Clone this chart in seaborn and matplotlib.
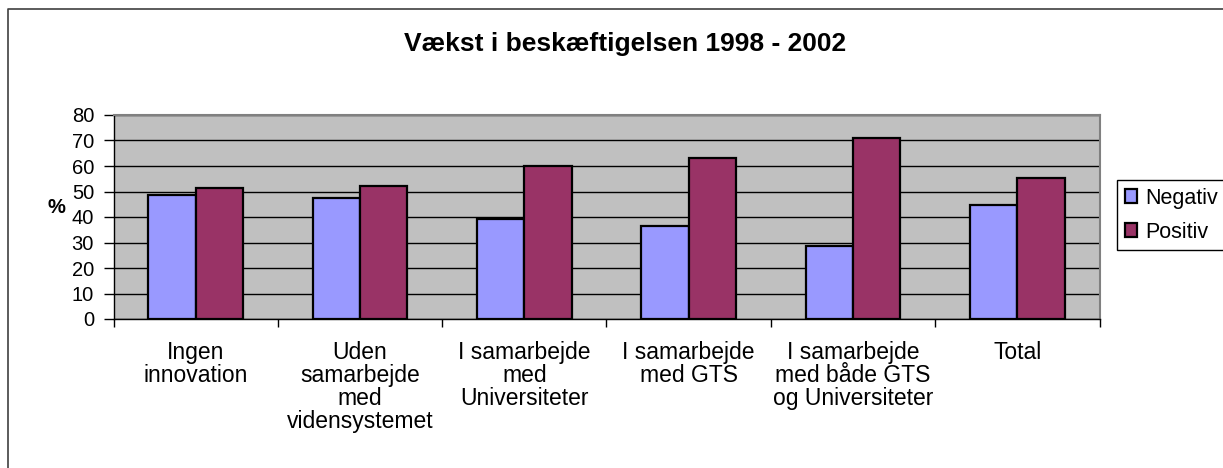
import pandas as pd
import seaborn as sns
import matplotlib.pyplot as plt
from matplotlib.lines import Line2D

categories = ['Ingen\ninnovation',
              'Uden\nsamarbejde\nmed\nvidensystemet',
              'I samarbejde\nmed\nUniversiteter',
              'I samarbejde\nmed GTS',
              'I samarbejde\nmed både GTS\nog Universiteter',
              'Total']
negativ = [48.6, 47.4, 39.1, 36.6, 28.8, 44.8]
positiv = [51.4, 52.2, 60.0, 63.2, 71.0, 55.1]
series = ['Negativ', 'Positiv']
y_ticks = [0, 10, 20, 30, 40, 50, 60, 70, 80]

df = pd.DataFrame({'Kategori': categories * 2,
                   'Type': ['Negativ'] * len(categories) + ['Positiv'] * len(categories),
                   'Procent': negativ + positiv})

sns.set_theme(style='white')
plt.rcParams['font.family'] = ['Liberation Sans', 'DejaVu Sans']
plt.rcParams['text.color'] = 'black'
plt.rcParams['axes.labelcolor'] = 'black'
plt.rcParams['xtick.color'] = 'black'
plt.rcParams['ytick.color'] = 'black'

fig = plt.figure(figsize=(12.23, 4.68), dpi=100)
ax = fig.add_axes([113.5 / 1223, 1 - 319 / 468, (1099.5 - 113.5) / 1223, (319 - 115) / 468])
ax.set_facecolor('#C0C0C0')

sns.barplot(data=df, x='Kategori', y='Procent', hue='Type', hue_order=series,
            palette={'Negativ': '#9999FF', 'Positiv': '#993366'},
            width=0.578, gap=0, edgecolor='black', linewidth=1.6, saturation=1,
            ax=ax, zorder=3)

ax.set_ylim(0, 80)
ax.set_xlim(-0.5, len(categories) - 0.5)
ax.set_yticks(y_ticks)
ax.set_yticklabels([str(t) for t in y_ticks], fontsize=14.5, color='black')
ax.yaxis.grid(True, color='black', linewidth=1.0, zorder=0)
ax.set_axisbelow(True)

# category labels in the middle, tick marks on the boundaries
ax.set_xticks(range(len(categories)))
ax.set_xticklabels(categories, fontsize=16.5, color='black', linespacing=1.0, va='top')
ax.tick_params(axis='x', which='major', length=0, pad=16)
ax.set_xticks([i - 0.5 for i in range(len(categories) + 1)], minor=True)
ax.tick_params(axis='x', which='minor', length=6, width=1, color='black', direction='out', bottom=True)
ax.tick_params(axis='y', length=7, width=1, color='black', direction='out', left=True, pad=7)

for side in ['top', 'right']:
    ax.spines[side].set_color('#808080')
    ax.spines[side].set_linewidth(1.5)
for side in ['left', 'bottom']:
    ax.spines[side].set_color('black')
    ax.spines[side].set_linewidth(1.0)

ax.set_xlabel('')
ax.set_ylabel('%', fontsize=14.5, fontweight='bold', rotation=0, labelpad=0)
ax.yaxis.set_label_coords(-0.058, 0.5)

handles, labels = ax.get_legend_handles_labels()
ax.legend(handles, labels, loc='upper left', bbox_to_anchor=(1117 / 1223, 1 - 180 / 468),
          bbox_transform=fig.transFigure, borderaxespad=0, fancybox=False,
          edgecolor='black', framealpha=1, fontsize=15.5, handlelength=0.6,
          handleheight=0.6, handletextpad=0.35, labelspacing=0.62, borderpad=0.35)
ax.get_legend().get_frame().set_linewidth(1.0)

fig.text(625 / 1223, 1 - 44 / 468, 'Vækst i beskæftigelsen 1998 - 2002',
         ha='center', va='center', fontsize=19, fontweight='bold')

# outer chart border (left and top visible)
fig.add_artist(Line2D([8 / 1223, 8 / 1223, 1], [0, 1 - 9 / 468, 1 - 9 / 468],
                      transform=fig.transFigure, color='#404040', linewidth=1.2))

fig.savefig('out.png', dpi=100)
